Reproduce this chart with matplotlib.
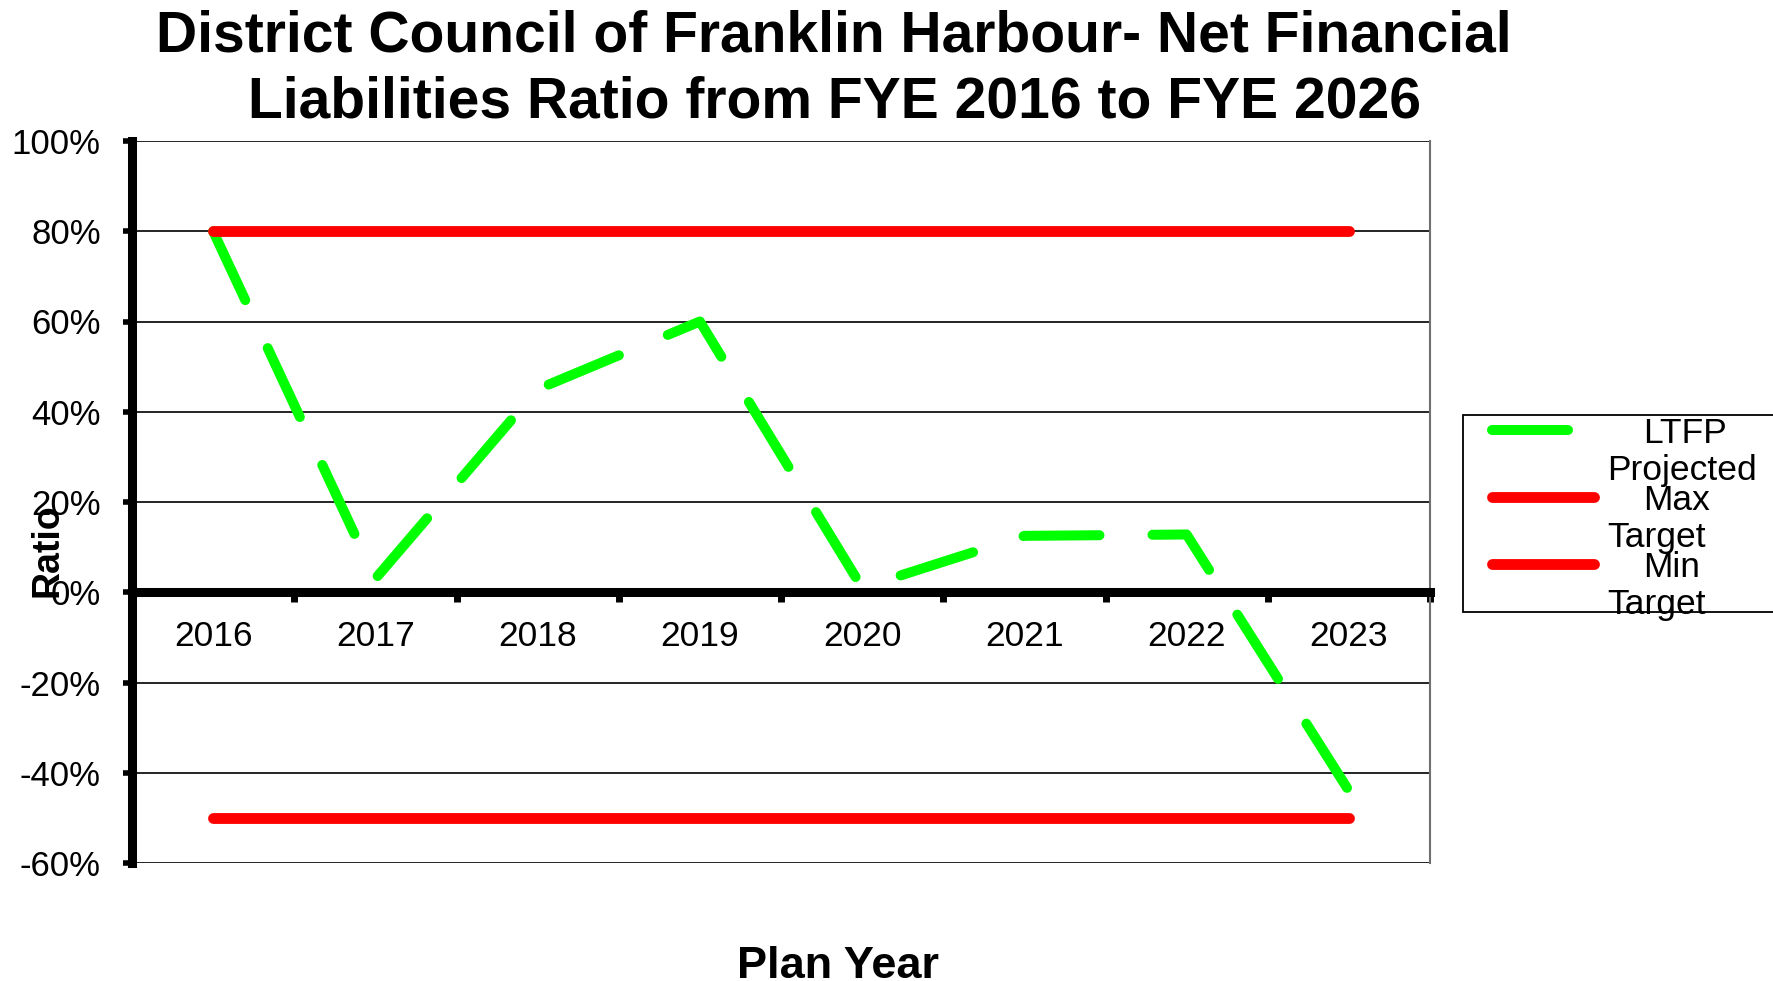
import numpy as np
import matplotlib
matplotlib.use('Agg')
import matplotlib.pyplot as plt
from matplotlib.lines import Line2D
from matplotlib.patches import Rectangle

plt.rcParams['font.family'] = ['Liberation Sans', 'DejaVu Sans']

# data (percent)
years = ['2016', '2017', '2018', '2019', '2020', '2021', '2022', '2023']
ltfp_projected = [80, 3, 45, 60, 1, 12.5, 12.8, -44]
max_target = [80, 80, 80, 80, 80, 80, 80, 80]
min_target = [-50, -50, -50, -50, -50, -50, -50, -50]
y_ticks = [-60, -40, -20, 0, 20, 40, 60, 80, 100]
series_names = [('LTFP', 'Projected'), ('Max', 'Target'), ('Min', 'Target')]

W, H = 1773, 981
fig = plt.figure(figsize=(W / 100, H / 100), dpi=100)
ax = fig.add_axes([132 / W, 1 - 863 / H, 1298 / W, 722 / H])

green = '#00ff00'
red = '#ff0000'
x = np.arange(len(years))

l1, = ax.plot(x, ltfp_projected, color=green, lw=7.2, dashes=(7.6, 5.3),
              dash_capstyle='round', dash_joinstyle='round', zorder=3)
l2, = ax.plot(x, max_target, color=red, lw=7.8, solid_capstyle='round', zorder=3)
l3, = ax.plot(x, min_target, color=red, lw=7.8, solid_capstyle='round', zorder=3)

ax.set_xlim(-0.5, len(years) - 0.5)
ax.set_ylim(-60, 100)

# y axis
ax.set_yticks(y_ticks)
ax.set_yticklabels([f'{v}%' for v in y_ticks])
ax.yaxis.grid(True, color='black', linewidth=1.2, zorder=1)
ax.tick_params(axis='y', direction='out', length=6.5, width=4, pad=16,
               labelsize=25, colors='black')

# x axis: category labels at centres, tick marks between categories
ax.set_xticks(np.arange(len(years) + 1) - 0.5)
ax.set_xticklabels([])
ax.set_xticks(x, minor=True)
ax.set_xticklabels(years, minor=True)
ax.tick_params(axis='x', which='major', direction='out', length=7, width=5)
ax.tick_params(axis='x', which='minor', length=0, pad=20, labelsize=25.5)

ax.spines['bottom'].set_position(('data', 0))
ax.spines['bottom'].set_linewidth(6.5)
ax.spines['left'].set_linewidth(6.5)
ax.spines['top'].set_visible(False)
ax.spines['right'].set_color('#707070')
ax.spines['right'].set_linewidth(1.5)
for s in ax.spines.values():
    s.set_zorder(4)

# titles
fig.text(834 / W, 1 - 51 / H, 'District Council of Franklin Harbour- Net Financial',
         ha='center', va='baseline', fontsize=41, fontweight='bold')
fig.text(834 / W, 1 - 117 / H, 'Liabilities Ratio from FYE 2016 to FYE 2026',
         ha='center', va='baseline', fontsize=41, fontweight='bold')
fig.text(48 / W, 1 - 550 / H, 'Ratio', rotation=90, ha='center', va='center',
         fontsize=27, fontweight='bold')
fig.text(838 / W, 1 - 978 / H, 'Plan Year', ha='center', va='baseline',
         fontsize=32.5, fontweight='bold')

# legend box, drawn by hand to copy the overlapping labels
fig.patches.append(Rectangle((1463 / W, 1 - 612 / H), 400 / W, 197 / H,
                             transform=fig.transFigure, facecolor='white',
                             edgecolor='black', linewidth=1.3, zorder=5))
for i, (line, (first, second)) in enumerate(zip([l1, l2, l3], series_names)):
    yy = 430 + 67 * i
    h = Line2D([1492 / W, 1594 / W], [1 - yy / H, 1 - yy / H])
    h.update_from(line)
    h.set_transform(fig.transFigure)
    h.set_clip_on(False)
    h.set_zorder(6)
    fig.lines.append(h)
    fig.text(1643 / W, 1 - (yy + 13) / H, first, ha='left', va='baseline',
             fontsize=25.5, zorder=7)
    fig.text(1607 / W, 1 - (yy + 50) / H, second, ha='left', va='baseline',
             fontsize=25.5, zorder=7)

fig.savefig('out.png', dpi=100)
